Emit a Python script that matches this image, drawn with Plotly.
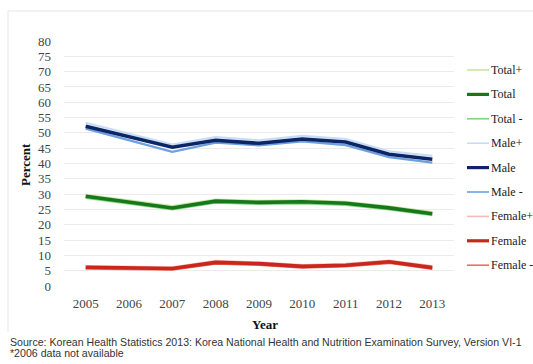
import plotly.graph_objects as go

# Prevalence (%) by year; 2006 has no survey data (None), lines bridge the gap
years = ["2005", "2006", "2007", "2008", "2009", "2010", "2011", "2012", "2013"]

total_hi = [29.8, None, 26.1, 28.2, 27.8, 28.0, 27.5, 26.0, 24.1]
total = [29.3, None, 25.5, 27.7, 27.3, 27.5, 27.0, 25.5, 23.6]
total_lo = [28.8, None, 25.0, 27.2, 26.8, 27.0, 26.5, 25.0, 23.1]

male_hi = [53.3, None, 46.2, 48.6, 47.6, 49.0, 48.0, 44.0, 42.5]
male = [52.2, None, 45.3, 47.6, 46.6, 48.0, 47.0, 43.0, 41.4]
male_lo = [51.4, None, 43.8, 46.8, 45.9, 47.2, 46.0, 42.1, 40.3]

female_hi = [6.5, None, 6.1, 8.2, 7.7, 6.8, 7.2, 8.3, 6.5]
female = [6.1, None, 5.7, 7.7, 7.3, 6.4, 6.8, 7.9, 6.0]
female_lo = [5.7, None, 5.3, 7.3, 6.9, 6.0, 6.4, 7.5, 5.6]

series_names = ["Total+", "Total", "Total -", "Male+", "Male", "Male -",
                "Female+", "Female", "Female -"]
series_values = [total_hi, total, total_lo, male_hi, male, male_lo,
                 female_hi, female, female_lo]
series_colors = ["#c9e5a3", "#16781a", "#86d486",
                 "#c7ddf5", "#0c2566", "#6e9fdf",
                 "#f6bcb3", "#c9261d", "#f06e5e"]
is_main = [False, True, False] * 3

y_ticks = list(range(0, 85, 5))

fig = go.Figure()

# Confidence bounds first, point estimates on top
for pass_main in (False, True):
    for name, vals, col, main in zip(series_names, series_values, series_colors, is_main):
        if main != pass_main:
            continue
        fig.add_trace(go.Scatter(
            x=years, y=vals, name=name, mode="lines", connectgaps=True,
            line=dict(color=col, width=3.6 if main else 2.2),
            showlegend=False, hoverinfo="skip",
        ))

# Plot-area geometry in pixels (used for the hand-drawn legend and frame)
W, H = 533, 364
L, R, T, B = 64, 454, 41, 286


def px(x):
    return (x - L) / (R - L)


def py(y):
    return (B - y) / (B - T)


shapes = []
annotations = []

# Legend: short line sample plus label for each series
for i, (name, col, main) in enumerate(zip(series_names, series_colors, is_main)):
    yy = 70 + 24.4 * i
    shapes.append(dict(type="line", xref="paper", yref="paper",
                       x0=px(467), x1=px(489), y0=py(yy), y1=py(yy),
                       line=dict(color=col, width=3.2 if main else 1.6)))
    annotations.append(dict(text=name, xref="paper", yref="paper",
                            x=px(489), y=py(yy), xanchor="left", yanchor="middle",
                            showarrow=False,
                            font=dict(family="Liberation Serif", size=12, color="#222")))

# Faint outer frame
shapes.append(dict(type="line", xref="paper", yref="paper",
                   x0=px(8), x1=px(533), y0=py(11), y1=py(11),
                   line=dict(color="#e6e6e6", width=1)))
shapes.append(dict(type="line", xref="paper", yref="paper",
                   x0=px(8), x1=px(8), y0=py(11), y1=py(332),
                   line=dict(color="#e6e6e6", width=1)))

# Source notes
annotations.append(dict(
    text="Source: Korean Health Statistics 2013: Korea National Health and Nutrition Examination Survey, Version VI-1",
    xref="paper", yref="paper", x=px(8), y=py(342), xanchor="left", yanchor="middle",
    showarrow=False, font=dict(family="Liberation Sans", size=10.6, color="#333")))
annotations.append(dict(
    text="*2006 data not available",
    xref="paper", yref="paper", x=px(8), y=py(352.5), xanchor="left", yanchor="middle",
    showarrow=False, font=dict(family="Liberation Sans", size=10.6, color="#333")))

# Axis titles
annotations.append(dict(text="<b>Percent</b>", xref="paper", yref="paper",
                        x=px(25), y=py(165), textangle=-90, showarrow=False,
                        xanchor="center", yanchor="middle",
                        font=dict(family="Liberation Serif", size=13, color="#111")))
annotations.append(dict(text="<b>Year</b>", xref="paper", yref="paper",
                        x=px(265), y=py(324), showarrow=False,
                        xanchor="center", yanchor="middle",
                        font=dict(family="Liberation Serif", size=13, color="#111")))

fig.update_layout(
    width=W, height=H,
    margin=dict(l=L, r=W - R, t=T, b=H - B),
    paper_bgcolor="white", plot_bgcolor="white",
    showlegend=False,
    shapes=shapes, annotations=annotations,
    xaxis=dict(type="category", range=[-0.5, 8.5], showgrid=False, zeroline=False,
               showline=False, ticks="", ticklabelstandoff=8,
               tickfont=dict(family="Liberation Serif", size=13, color="#444")),
    yaxis=dict(range=[0, 80], tickvals=y_ticks, ticktext=[str(v) for v in y_ticks],
               showgrid=True, gridcolor="#ebebeb", gridwidth=1, zeroline=False,
               showline=False, ticks="", ticklabelstandoff=12,
               tickfont=dict(family="Liberation Serif", size=13, color="#444")),
)

fig.write_html("out.html")
